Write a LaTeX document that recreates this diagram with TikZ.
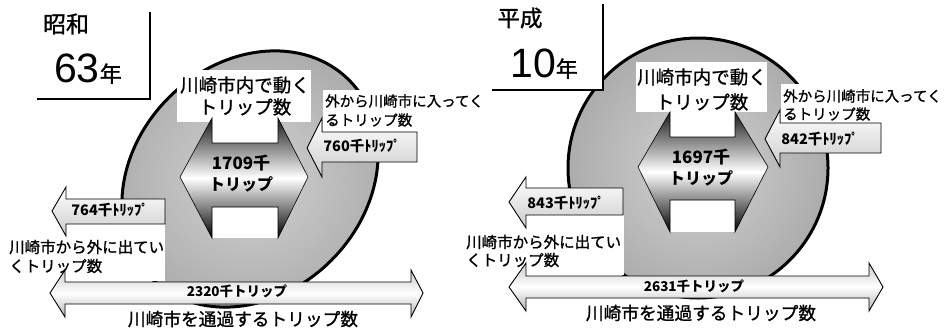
\documentclass[tikz,border=0pt]{standalone}
\usepackage{fontspec}
\newfontfamily\jp[FakeBold=1.1]{Noto Sans CJK JP}
\newfontfamily\jpb{Noto Sans CJK JP}
\newfontfamily\lat{Liberation Sans}
\newcommand\fsz[1]{\fontsize{#1}{#1}\selectfont}
\begin{document}
\begin{tikzpicture}[x=1pt,y=-1pt,
  disc/.style={line width=3pt, draw=black, inner color=gray!35, outer color=gray!65},
  boxline/.style={line width=2pt, line cap=rect},
  bigarrow/.style={draw=black, line width=0.6pt, top color=black!90, bottom color=black, middle color=white},
  smallarrow/.style={draw=black, line width=0.9pt, top color=white, bottom color=gray!40},
  longarrow/.style={draw=black, line width=0.9pt, top color=gray!40, bottom color=gray!60, middle color=white},
  lbl/.style={inner sep=0pt, font=\jp},
  num/.style={inner sep=0pt, font=\jpb\bfseries},
]
\useasboundingbox[fill=white] (0,0) rectangle (952,332);

% ================= left panel (Showa 63) =================
\path[disc, rotate around={45:(250,179)}] (250,179) ellipse [x radius=140pt, y radius=115pt];
\fill[white] (30,0) rectangle (151,99);
\draw[boxline] (150,13) -- (150,99) -- (38,99);
\node[lbl, font=\jp\fsz{23}] (t1a) at (66,24) {昭和};
\node[lbl, anchor=base west, font=\lat\fsz{41}] (t1b) at (54,82) {63{\jp\fsz{22}年}};

\fill[white] (177,70) rectangle (311,122);
\fill[white] (212,116) rectangle (278,143);
\fill[white] (212,207) rectangle (278,238);
\path[bigarrow] (180,177) -- (212,118) -- (212,143) -- (278,143) -- (278,118) -- (308,177)
  -- (278,238) -- (278,207) -- (212,207) -- (212,238) -- cycle;
\node[lbl, font=\jp\fsz{18.5}] (in1a) at (245,85) {川崎市内で動く};
\node[lbl, font=\jp\fsz{18.5}] (in1b) at (245,107) {トリップ数};
\node[num, font=\jpb\bfseries\fsz{17}] (in1c) at (241,163) {1709千};
\node[num, font=\jpb\bfseries\fsz{16}] (in1d) at (241,184) {トリップ};

\fill[white] (323,90) rectangle (486,132);
\node[lbl, anchor=west, font=\jp\fsz{14.5}] (ent1a) at (325,101) {外から川崎市に入ってく};
\node[lbl, anchor=west, font=\jp\fsz{14.5}] (ent1b) at (325,120) {るトリップ数};
\path[smallarrow] (307,148) -- (322,118) -- (322,132) -- (417,132) -- (417,162) -- (322,162) -- (322,177) -- cycle;
\node[num, font=\jpb\bfseries\fsz{14.5}] (ent1c) at (362,146) {760千ﾄﾘｯﾌﾟ};

\fill[white] (0,224) rectangle (165,281);
\path[smallarrow] (52,211) -- (66,187) -- (66,199) -- (165,199) -- (165,224) -- (66,224) -- (66,236) -- cycle;
\node[num, font=\jpb\bfseries\fsz{14.5}] (out1c) at (110,210) {764千ﾄﾘｯﾌﾟ};
\node[lbl, anchor=west, font=\jp\fsz{15.5}] (out1a) at (9,247) {川崎市から外に出てい};
\node[lbl, anchor=west, font=\jp\fsz{15.5}] (out1b) at (9,266) {くトリップ数};

\path[longarrow] (50,293) -- (65,270) -- (65,282) -- (411,282) -- (411,270) -- (423,293)
  -- (411,317) -- (411,304) -- (65,304) -- (65,317) -- cycle;
\node[num, font=\jpb\bfseries\fsz{13.5}] (th1a) at (237,291) {2320千トリップ};
\node[lbl, font=\jp\fsz{17.7}] (th1b) at (243,319) {川崎市を通過するトリップ数};

% ================= right panel (Heisei 10) =================
\path[disc] (698,168) circle [radius=130pt];
\fill[white] (488,0) rectangle (604,90);
\draw[boxline] (603,5) -- (603,90) -- (493,90);
\node[lbl, font=\jp\fsz{22.5}] (t2a) at (520,18) {平成};
\node[lbl, anchor=base west, font=\lat\fsz{41}] (t2b) at (510,77) {10{\jp\fsz{22}年}};

\fill[white] (636,62) rectangle (767,112);
\fill[white] (670,110) rectangle (735,137);
\fill[white] (670,200) rectangle (735,232);
\path[bigarrow] (638,167) -- (670,112) -- (670,137) -- (735,137) -- (735,112) -- (768,167)
  -- (735,232) -- (735,200) -- (670,200) -- (670,232) -- cycle;
\node[lbl, font=\jp\fsz{18.5}] (in2a) at (702,77) {川崎市内で動く};
\node[lbl, font=\jp\fsz{18.5}] (in2b) at (702,102) {トリップ数};
\node[num, font=\jpb\bfseries\fsz{17}] (in2c) at (701,157) {1697千};
\node[num, font=\jpb\bfseries\fsz{16}] (in2d) at (701,178) {トリップ};

\fill[white] (781,84) rectangle (952,123);
\node[lbl, anchor=west, font=\jp\fsz{14.5}] (ent2a) at (783,96) {外から川崎市に入ってく};
\node[lbl, anchor=west, font=\jp\fsz{14.5}] (ent2b) at (783,114) {るトリップ数};
\path[smallarrow] (765,139) -- (780,110) -- (780,123) -- (881,123) -- (881,153) -- (780,153) -- (780,167) -- cycle;
\node[num, font=\jpb\bfseries\fsz{14.5}] (ent2c) at (820,139) {842千ﾄﾘｯﾌﾟ};

\fill[white] (462,215) rectangle (624,275);
\path[smallarrow] (509,202) -- (526,177) -- (526,188) -- (623,188) -- (623,215) -- (526,215) -- (526,228) -- cycle;
\node[num, font=\jpb\bfseries\fsz{14.5}] (out2c) at (566,203) {843千ﾄﾘｯﾌﾟ};
\node[lbl, anchor=west, font=\jp\fsz{15.5}] (out2a) at (466,242) {川崎市から外に出てい};
\node[lbl, anchor=west, font=\jp\fsz{15.5}] (out2b) at (466,260) {くトリップ数};

\path[longarrow] (509,287) -- (526,263) -- (526,276) -- (869,276) -- (869,263) -- (883,287)
  -- (869,311) -- (869,298) -- (526,298) -- (526,311) -- cycle;
\node[num, font=\jpb\bfseries\fsz{13.5}] (th2a) at (694,286) {2631千トリップ};
\node[lbl, font=\jp\fsz{17.7}] (th2b) at (701,313) {川崎市を通過するトリップ数};
\end{tikzpicture}
\end{document}
